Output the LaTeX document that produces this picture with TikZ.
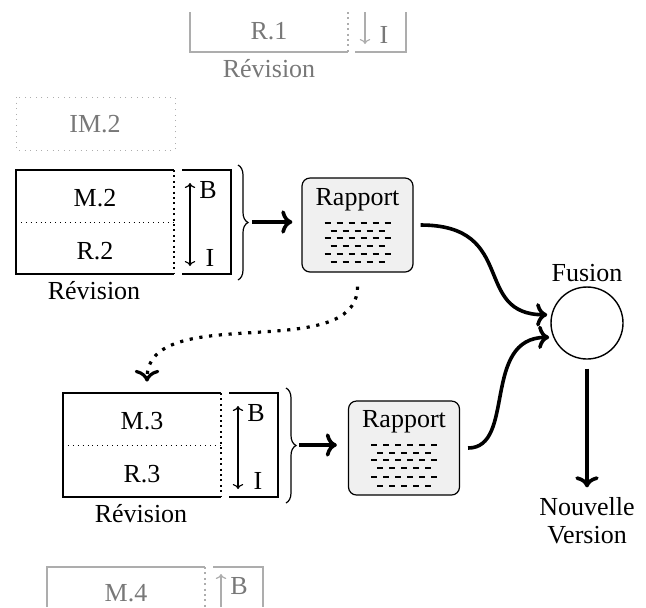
\documentclass[tikz,border=0pt]{standalone}
\usepackage{fontspec}
\setmainfont{Liberation Serif}
\usetikzlibrary{arrows.meta,decorations.pathreplacing}
\definecolor{gline}{gray}{0.68}
\definecolor{gtxt}{gray}{0.47}
\begin{document}
\begin{tikzpicture}[x=0.5pt,y=-0.5pt,
  every node/.style={font=\fontsize{13}{14}\selectfont, inner sep=0pt},
  boxline/.style={line width=0.9pt},
  sepdot/.style={line width=1pt, dash pattern=on 1pt off 1.7pt},
  middot/.style={line width=0.45pt, dash pattern=on 0.45pt off 2pt},
  dblarrow/.style={line width=0.6pt, {To[length=2.5pt]}-{To[length=2.5pt]}},
  sglarrow/.style={line width=0.6pt, -{To[length=2.5pt]}},
  gboxline/.style={boxline, draw=gline, line width=0.7pt},
  gsepdot/.style={sepdot, draw=gline, line width=0.8pt},
  gdotbox/.style={draw=gline, line width=0.5pt, dash pattern=on 0.5pt off 2.3pt},
  gtext/.style={text=gtxt},
  gsglarrow/.style={sglarrow, draw=gline},
  bigarrow/.style={line width=1.8pt, -{To}},
  dotarrow/.style={line width=1.6pt, dash pattern=on 1.6pt off 3.3pt, -{To[scale=1.15]}},
  bracestyle/.style={line width=0.6pt, decorate, decoration={brace, amplitude=5pt}},
  rapbox/.style={draw, rounded corners=4pt, fill=black!6, line width=0.6pt,
    minimum width=55.5pt, minimum height=47pt},
  dashrow/.style={line width=0.6pt, dash pattern=on 3pt off 3pt},
  ghost/.style={minimum width=79pt, minimum height=52pt}
]
\useasboundingbox (0,0) rectangle (646,607);

% ---------- top (partial) box R.1
\draw[gboxline] (190,12) -- (190,52) -- (348,52);
\draw[gsepdot] (348,12) -- (348,52);
\draw[gboxline] (355,52) -- (406,52) -- (406,12);
\draw[gsglarrow] (365,12) -- (365,44);
\node[gtext] (r1) at (269,31) {R.1};
\node[gtext] (i1) at (384,35) {I};
\node[gtext] (rev1) at (269,69) {Révision};

% ---------- IM.2
\draw[gdotbox] (16,97) rectangle (175,150);
\node[gtext] (im2) at (95,124) {IM.2};

% ---------- box M.2 / R.2
\node[ghost] (m2box) at (95,222) {};
\draw[boxline] (174,170) -- (16,170) -- (16,274) -- (174,274);
\draw[sepdot] (174,170) -- (174,274);
\draw[middot] (16,222) -- (174,222);
\draw[boxline] (182,170) -- (231,170) -- (231,274) -- (182,274);
\draw[dblarrow] (190,183) -- (190,266);
\node (m2) at (95,198) {M.2};
\node (r2) at (95,251) {R.2};
\node (b2) at (208,190) {B};
\node (i2) at (210,258) {I};
\node (rev2) at (94,291) {Révision};
\draw[bracestyle] (238,165) -- (238,280);
\coordinate (br2) at (252,222);

% ---------- box M.3 / R.3
\node[ghost] (m3box) at (142,445) {};
\draw[boxline] (221,393) -- (63,393) -- (63,497) -- (221,497);
\draw[sepdot] (221,393) -- (221,497);
\draw[middot] (63,445) -- (221,445);
\draw[boxline] (229,393) -- (278,393) -- (278,497) -- (229,497);
\draw[dblarrow] (238,406) -- (238,489);
\node (m3) at (142,421) {M.3};
\node (r3) at (142,474) {R.3};
\node (b3) at (256,413) {B};
\node (i3) at (258,481) {I};
\node (rev3) at (141,514) {Révision};
\draw[bracestyle] (286,388) -- (286,503);
\coordinate (br3) at (299,445);

% ---------- bottom (partial) box M.4
\draw[gboxline] (47,607) -- (47,567) -- (205,567);
\draw[gsepdot] (205,567) -- (205,607);
\draw[gboxline] (213,567) -- (263,567) -- (263,607);
\draw[gsglarrow] (221,607) -- (221,574);
\node[gtext] (m4) at (126,593) {M.4};
\node[gtext] (b4) at (239,586) {B};

% ---------- Rapports
\node[rapbox] (rap1) at (357.5,225) {};
\node (rap1t) at ([shift={(0,-25)}]rap1.center) {Rapport};
\foreach \dy/\hw in {-2/33,6/27,13/33,21/27,29/33,37/27}
  \draw[dashrow] ([shift={(-\hw,\dy)}]rap1.center) -- ([shift={(\hw,\dy)}]rap1.center);

\node[rapbox] (rap2) at (404,448) {};
\node (rap2t) at ([shift={(0,-26)}]rap2.center) {Rapport};
\foreach \dy/\hw in {-3/33,5/27,12/33,20/27,29/33,38/27}
  \draw[dashrow] ([shift={(-\hw,\dy)}]rap2.center) -- ([shift={(\hw,\dy)}]rap2.center);

% ---------- Fusion
\node[draw, circle, minimum size=36pt, line width=0.7pt] (fus) at (587,323) {};
\node (fusl) at (587,273) {Fusion};
\node[align=center] (nv) at (587,521) {Nouvelle\\Version};

% ---------- connectors
\draw[bigarrow, shorten >=4.5pt] (br2) -- (br2 -| rap1.west);
\draw[bigarrow, shorten >=5.5pt] (br3) -- (br3 -| rap2.west);
\draw[bigarrow, shorten <=3.5pt, shorten >=2pt]
  (rap1.east) .. controls +(105,0) and +(-80,0) .. (fus.167);
\draw[bigarrow, shorten <=4pt, shorten >=2pt]
  (rap2.east) .. controls +(56,0) and +(-72,0) .. (fus.203);
\draw[bigarrow, shorten <=4.5pt, shorten >=5pt] (fus.south) -- (nv.north);
\draw[dotarrow, shorten <=7pt, shorten >=5.5pt]
  (rap1.south) .. controls +(0,93) and +(0,-93) .. ([xshift=2.5pt]m3box.north);
\end{tikzpicture}
\end{document}
